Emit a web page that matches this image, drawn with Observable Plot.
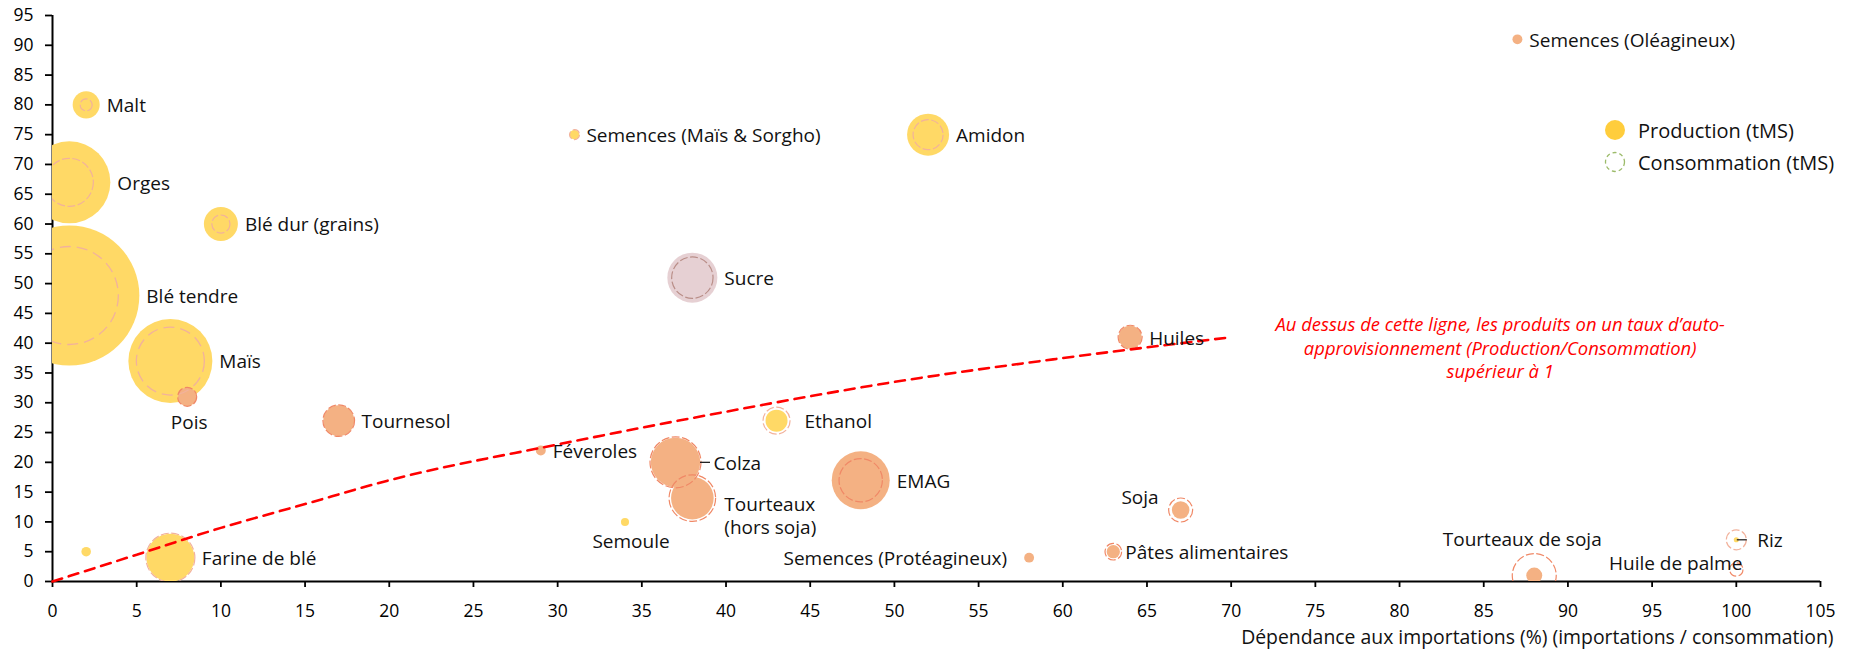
<!DOCTYPE html>
<html><head><meta charset="utf-8">
<script src="https://cdn.jsdelivr.net/npm/d3@7"></script>
<script src="https://cdn.jsdelivr.net/npm/@observablehq/plot@0.6"></script>
<style>
body{margin:0;background:#fff;font-family:'Open Sans',sans-serif;}
#wrap{position:relative;width:1858px;height:654px;overflow:hidden;}
#legend{position:absolute;left:1604px;top:114px;font-size:20px;color:#111;font-family:'Open Sans',sans-serif;}
.row{display:flex;align-items:center;height:32px;white-space:nowrap;}
.row svg{margin-right:12px;}
</style></head><body>
<div id="wrap"><div id="chart"></div><div id="legend"></div></div>
<script>
// ---- data ----
const products = ["Blé tendre","Orges","Malt","Blé dur (grains)","Maïs","","Farine de blé","Pois","Tournesol",
  "Semences (Maïs & Sorgho)","Amidon","Sucre","Ethanol","Colza","Tourteaux (hors soja)","EMAG","Semoule",
  "Féveroles","Huiles","Soja","Pâtes alimentaires","Semences (Protéagineux)","Semences (Oléagineux)",
  "Tourteaux de soja","Riz","Huile de palme"];
const importDependence = [1,1,2,10,7,2,7,8,17,31,52,38,43,37,38,48,34,29,64,67,63,58,87,88,100,100];
const yValues = [48,67,80,60,37,5,4,31,27,75,75,51,27,20,14,17,10,22,41,12,5,4,91,1,7,2];
const production = [30,10.3,1.12,1.77,10.8,0.14,3.53,0.53,1.47,0.14,2.7,3.83,0.74,3.73,2.78,5.15,0.1,0.15,0.81,0.47,0.27,0.15,0.15,0.39,0.04,0];
const consumption = [14.7,3.53,0.22,0.5,7.08,0,3.67,0.55,1.53,0.15,1.38,2.62,1.12,3.98,3.32,2.88,0,0,0.88,0.88,0.42,0,0,2.96,0.61,0.27];
const groups = ["cer","cer","cer","cer","cer","cer","cer","ole","ole","cer","cer","suc","cer","ole","ole","ole","cer",
  "ole","ole","ole","ole","ole","ole","ole","cer","ole"];
const thresholdX = [0,5,10,15,20,30,40,50,60,70];
const thresholdY = [0,4.5,9,13,17,23,28.5,33.5,37.5,41];
const xTicks = [0,5,10,15,20,25,30,35,40,45,50,55,60,65,70,75,80,85,90,95,100,105];
const yTicks = [0,5,10,15,20,25,30,35,40,45,50,55,60,65,70,75,80,85,90,95];
const xLabel = "Dépendance aux importations (%) (importations / consommation)";
const annotationText = "Au dessus de cette ligne, les produits on un taux d’auto-\napprovisionnement (Production/Consommation)\nsupérieur à 1";
const legendLabels = ["Production (tMS)", "Consommation (tMS)"];

// ---- styles / layout ----
const fillColors = {cer:"#FFD966", ole:"#F4B183", suc:"#E6D0D3"};
const strokeColors = {cer:"#F2B29C", ole:"#F08866", suc:"#B98E88"};
const W = 1858, H = 654, mL = 52, mR = 38, mT = 15, mB = 73;
const rOpts = {type:"sqrt", domain:[0,30], range:[0,70]};
const rScale = Plot.scale({r: rOpts});
const xScale = Plot.scale({x: {domain:[0,105], range:[mL, W - mR]}});
const rpx = v => v > 0 ? rScale.apply(v) : 0;
const LABEL_SIZE = 19;

const placement = {
  "Pois": {anchor:"middle", dx:2, dy:25},
  "Soja": {anchor:"end", dx:-22, dy:-13},
  "Semoule": {anchor:"middle", dx:6, dy:19},
  "Semences (Protéagineux)": {anchor:"end", dx:-22, dy:0},
  "Tourteaux de soja": {anchor:"middle", dx:-12, dy:-37},
  "Huile de palme": {anchor:"end", dx:6, dy:-7},
  "Riz": {dx:21, leader:[1,11]},
  "Colza": {dx:38, leader:[25,35]},
  "Tourteaux (hors soja)": {dx:32, dy:17, text:"Tourteaux\n(hors soja)"},
  "Ethanol": {dx:28},
  "Pâtes alimentaires": {dx:12}
};

const data = products.map((name, i) => ({name, x: importDependence[i], y: yValues[i],
  p: production[i], c: consumption[i], g: groups[i]}));
const threshold = thresholdX.map((x, i) => ({x, y: thresholdY[i]}));

const labelMarks = [];
for (const d of data) {
  if (!d.name) continue;
  const pl = placement[d.name] || {};
  const rmax = Math.max(rpx(d.p), rpx(d.c));
  labelMarks.push(Plot.text([d], {x:"x", y:"y", text: () => pl.text ?? d.name,
    dx: pl.dx ?? rmax + 7, dy: pl.dy ?? 0, textAnchor: pl.anchor ?? "start",
    fontSize: LABEL_SIZE, lineHeight: 1.2, fill:"#111"}));
  if (pl.leader) {
    const px0 = xScale.apply(d.x);
    labelMarks.push(Plot.ruleY([d], {y:"y", x1: () => xScale.invert(px0 + pl.leader[0]),
      x2: () => xScale.invert(px0 + pl.leader[1]), stroke:"#222", strokeWidth:1.3}));
  }
}

const last = threshold[threshold.length - 1];
const bigC = data.filter(d => rpx(d.c) >= 28);
const smallC = data.filter(d => rpx(d.c) < 28);

const chart = Plot.plot({
  width: W, height: H, marginLeft: mL, marginRight: mR, marginTop: mT, marginBottom: mB,
  style: {fontFamily: "'Open Sans', sans-serif", fontSize: "17.5px", color: "#000", background: "#fff", overflow: "visible"},
  x: {domain: [0, 105]},
  y: {domain: [0, 95]},
  r: rOpts,
  color: {type: "identity"},
  marks: [
    Plot.axisY({ticks: yTicks, tickSize: 7, tickPadding: 12, label: null, fontSize: 17.5, strokeWidth: 1.8, tickFormat: d => String(d)}),
    Plot.axisX({ticks: xTicks, tickSize: 6, tickPadding: 17, label: null, fontSize: 17.5, strokeWidth: 1.8, tickFormat: d => String(d)}),
    Plot.ruleX([0], {stroke: "#000", strokeWidth: 2}),
    Plot.ruleY([0], {stroke: "#000", strokeWidth: 2}),
    Plot.dot(data, {x: "x", y: "y", r: "p", fill: d => fillColors[d.g], stroke: "none", clip: true}),
    Plot.dot(bigC, {x: "x", y: "y", r: "c", fill: "none", stroke: d => strokeColors[d.g],
      strokeWidth: 1.3, strokeDasharray: "11,6", clip: true}),
    Plot.dot(smallC, {x: "x", y: "y", r: "c", fill: "none", stroke: d => strokeColors[d.g],
      strokeWidth: 1.2, strokeDasharray: "8,2.5", clip: true}),
    Plot.line(threshold, {x: "x", y: "y", stroke: "#FF0000", strokeWidth: 2.6, strokeDasharray: "10,7", curve: "monotone-x"}),
    ...labelMarks,
    Plot.text([last], {x: "x", y: "y", text: () => annotationText, dx: 269, dy: 10, fill: "#FF0000",
      fontStyle: "italic", fontSize: 18.4, lineHeight: 1.28, textAnchor: "middle"}),
    Plot.text([xLabel], {frameAnchor: "bottom-right", text: d => d, dx: 13, dy: 62, textAnchor: "end", fontSize: 19.4, fill: "#111"})
  ]
});
document.getElementById("chart").appendChild(chart);

// legend
const legend = document.getElementById("legend");
legendLabels.forEach((lab, i) => {
  const row = document.createElement("div");
  row.className = "row";
  const circle = i === 0
    ? '<circle cx="11" cy="11" r="10" fill="#FFCD3C"/>'
    : '<circle cx="11" cy="11" r="9.5" fill="none" stroke="#9CBB6A" stroke-width="1.3" stroke-dasharray="4,3"/>';
  row.innerHTML = '<svg width="22" height="22">' + circle + '</svg><span></span>';
  row.querySelector("span").textContent = lab;
  legend.appendChild(row);
});
</script>
</body></html>
